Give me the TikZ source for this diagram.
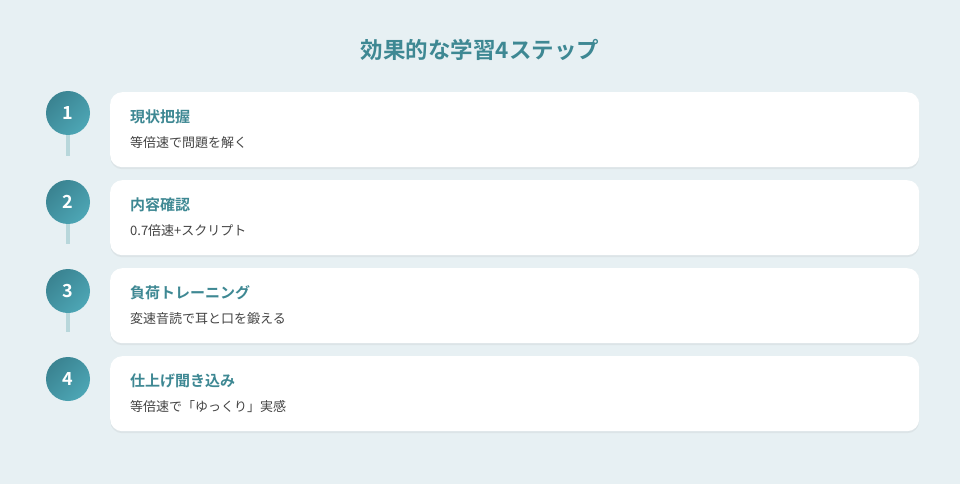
\documentclass[tikz,border=0pt]{standalone}
\usepackage{fontspec}
\setmainfont{Noto Sans CJK JP}[BoldFont={* Bold}]
\usetikzlibrary{shadows}
\definecolor{bg}{HTML}{E7F0F3}
\definecolor{teal}{HTML}{3E8893}
\definecolor{tealA}{HTML}{3A8391}
\definecolor{tealB}{HTML}{4DA6B5}
\definecolor{stem}{HTML}{B8D7DB}
\definecolor{sub}{HTML}{444444}
\tikzset{
  card/.style={fill=white, rounded corners=12pt, minimum width=809pt, minimum height=75pt, anchor=north west, inner sep=0pt,
    drop shadow={opacity=0.10, shadow xshift=0pt, shadow yshift=-2pt}},
  numdot/.style={circle, minimum size=44pt, inner sep=0pt, top color=tealA, bottom color=tealB, shading angle=45,
    text=white, font=\bfseries\fontsize{18}{21}\selectfont},
  stemline/.style={draw=stem, line width=4pt},
  ctitle/.style={anchor=west, text=teal, font=\bfseries\fontsize{15}{18}\selectfont, inner sep=0pt},
  csub/.style={anchor=west, text=sub, font=\fontsize{13}{15}\selectfont, inner sep=0pt},
}
\begin{document}
\begin{tikzpicture}[x=1pt, y=-1pt]
\fill[bg] (0,0) rectangle (960,484);
\useasboundingbox (0,0) rectangle (960,484);
\node[text=teal, font=\bfseries\fontsize{22.5}{26}\selectfont] (title) at (480,50) {効果的な学習4ステップ};
% stems
\coordinate (s1) at (68,156);
\coordinate (s2) at (68,244);
\coordinate (s3) at (68,332);
% cards
\node[card] (c1) at (110,92) {};
\node[card] (c2) at (110,180) {};
\node[card] (c3) at (110,268) {};
\node[card] (c4) at (110,356) {};
% circles
\node[numdot] (n1) at (68,113) {1};
\node[numdot] (n2) at (68,202) {2};
\node[numdot] (n3) at (68,291) {3};
\node[numdot] (n4) at (68,379) {4};
\draw[stemline] (n1.south) -- (s1);
\draw[stemline] (n2.south) -- (s2);
\draw[stemline] (n3.south) -- (s3);
% texts
\node[ctitle] (t1) at (130,117) {現状把握};
\node[csub] (u1) at (130,143) {等倍速で問題を解く};
\node[ctitle] (t2) at (130,205) {内容確認};
\node[csub] (u2) at (130,231) {0.7倍速+スクリプト};
\node[ctitle] (t3) at (130,293) {負荷トレーニング};
\node[csub] (u3) at (130,319) {変速音読で耳と口を鍛える};
\node[ctitle] (t4) at (130,381) {仕上げ聞き込み};
\node[csub] (u4) at (130,407) {等倍速で「ゆっくり」実感};
\end{tikzpicture}
\end{document}
